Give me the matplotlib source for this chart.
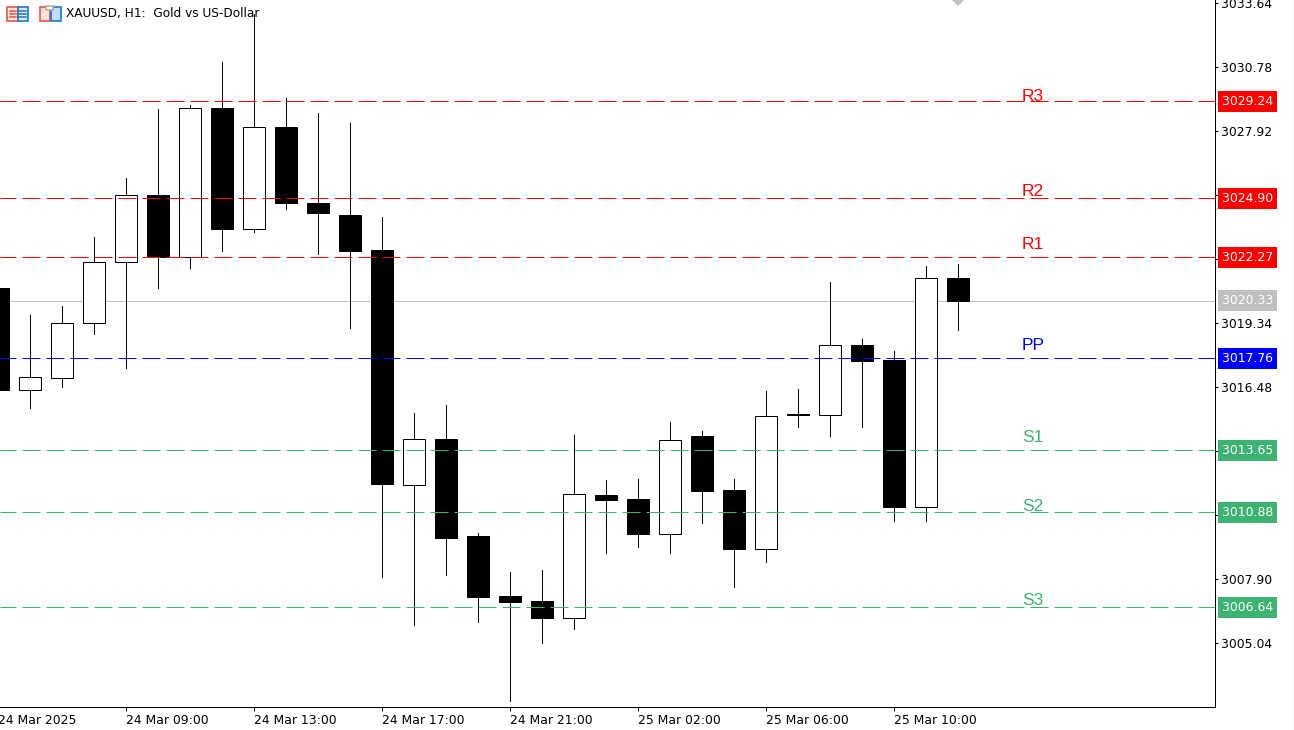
import matplotlib
matplotlib.use('Agg')
import matplotlib.pyplot as plt
from matplotlib.patches import Rectangle

highs = [3020.90, 3019.70, 3020.10, 3023.18, 3025.81, 3028.88, 3029.06, 3030.98, 3033.12, 3029.38, 3028.71,
         3028.26, 3024.07, 3015.33, 3015.68, 3009.97, 3008.19, 3008.32, 3014.35, 3012.34, 3012.38, 3014.93,
         3014.52, 3012.38, 3016.31, 3016.40, 3021.17, 3018.63, 3018.09, 3021.88, 3021.97]
lows = [3016.35, 3015.55, 3016.49, 3018.85, 3017.33, 3020.90, 3021.79, 3022.55, 3023.40, 3024.42, 3022.42,
        3019.12, 3008.01, 3005.83, 3008.06, 3005.96, 3002.44, 3005.02, 3005.65, 3009.04, 3009.35, 3009.08,
        3010.38, 3007.52, 3008.64, 3014.70, 3014.30, 3014.70, 3010.51, 3010.51, 3019.03]
opens = [3020.90, 3016.35, 3016.89, 3019.34, 3022.06, 3025.05, 3022.28, 3028.93, 3023.53, 3028.08, 3024.69,
         3024.16, 3022.60, 3012.11, 3014.17, 3009.80, 3007.12, 3006.90, 3006.14, 3011.67, 3011.49, 3009.89,
         3014.30, 3011.89, 3009.22, 3015.28, 3015.24, 3018.36, 3017.69, 3011.13, 3021.35]
closes = [3016.35, 3016.93, 3019.34, 3022.06, 3025.05, 3022.28, 3028.93, 3023.53, 3028.08, 3024.69, 3024.25,
          3022.55, 3012.16, 3014.17, 3009.75, 3007.08, 3006.85, 3006.14, 3011.71, 3011.45, 3009.89, 3014.12,
          3011.85, 3009.22, 3015.19, 3015.24, 3018.36, 3017.65, 3011.13, 3021.35, 3020.32]

level_names = ['R3', 'R2', 'R1', 'PP', 'S1', 'S2', 'S3']
level_prices = [3029.24, 3024.90, 3022.27, 3017.76, 3013.65, 3010.88, 3006.64]
level_label_y = [3029.27, 3025.02, 3022.62, 3018.13, 3014.03, 3010.95, 3006.76]
level_colors = ['#ff0000', '#ff0000', '#ff0000', '#0000ff', '#3cb371', '#3cb371', '#3cb371']
last_price = 3020.33

price_ticks = [3033.64, 3030.78, 3027.92, 3025.06, 3022.20, 3019.34, 3016.48, 3013.62, 3010.76, 3007.90, 3005.04]
price_hidden = [3025.06, 3022.20, 3013.62, 3010.76]
time_ticks = [4, 8, 12, 16, 20, 24, 28]
time_labels = ['24 Mar 09:00', '24 Mar 13:00', '24 Mar 17:00', '24 Mar 21:00',
               '25 Mar 02:00', '25 Mar 06:00', '25 Mar 10:00']

W, H = 1294, 730
plt.rcParams['lines.scale_dashes'] = False
plt.rcParams['font.family'] = 'DejaVu Sans'
px = 0.72  # one pixel in points at dpi 100
small = 8.9

fig = plt.figure(figsize=(W / 100, H / 100), dpi=100)
ax = fig.add_axes([0, 1 - 707 / H, 1215 / W, 707 / H])
ax.set_xlim(4 - 126 / 32, 4 + (1215 - 126) / 32)
ax.set_ylim(3029.24 - 605.8 / 22.389, 3029.24 + 101.2 / 22.389)

for s in ['top', 'left']:
    ax.spines[s].set_visible(False)
for s in ['right', 'bottom']:
    ax.spines[s].set_linewidth(1 * px)

ax.axhline(last_price, color='#c0c0c0', lw=1 * px, zorder=1)

for i in range(len(opens)):
    top = max(opens[i], closes[i])
    bot = min(opens[i], closes[i])
    face = 'black' if closes[i] < opens[i] else 'white'
    ax.vlines(i, top, highs[i], color='black', lw=1 * px, zorder=2, antialiased=False)
    ax.vlines(i, lows[i], bot, color='black', lw=1 * px, zorder=2, antialiased=False)
    ax.bar(i, top - bot, bottom=bot, width=21.5 / 32, facecolor=face, edgecolor='black', linewidth=1 * px, zorder=3)

box = dict(boxstyle='square,pad=0.33', ec='none')
for name, price, label_y, col in zip(level_names, level_prices, level_label_y, level_colors):
    ax.axhline(price, color=col, lw=1 * px, linestyle=(2 * px, (18 * px, 6 * px)), zorder=4)
    ax.text(32, label_y, name, color=col, fontsize=12.5, family='Liberation Sans', va='baseline', ha='left', zorder=5)
    ax.annotate(f'{price:.2f}', xy=(1, price), xycoords=('axes fraction', 'data'), xytext=(7, 0),
                textcoords='offset pixels', color='white', fontsize=small, va='center', ha='left',
                annotation_clip=False, zorder=6, bbox=dict(box, fc=col))

ax.annotate(f'{last_price:.2f}', xy=(1, last_price), xycoords=('axes fraction', 'data'), xytext=(7, 0),
            textcoords='offset pixels', color='white', fontsize=small, va='center', ha='left',
            annotation_clip=False, zorder=6, bbox=dict(box, fc='#c0c0c0'))

# grey shift marker at the top edge
ax.plot([30], [ax.get_ylim()[1]], marker='D', ms=6.1, color='#c0c0c0', mew=0, zorder=2)

ax.yaxis.tick_right()
ax.set_yticks(price_ticks)
ax.set_yticklabels(['' if t in price_hidden else f'{t:.2f}' for t in price_ticks], fontsize=small)
ax.tick_params(axis='y', length=3 * px, width=1 * px, pad=2)
ax.set_xticks(time_ticks)
ax.set_xticklabels(time_labels, fontsize=small, ha='left')
ax.tick_params(axis='x', length=4 * px, width=1 * px, pad=2.5)
ax.annotate('24 Mar 2025', xy=(0, 0), xycoords=('data', 'axes fraction'), xytext=(0, -7.5),
            textcoords='offset pixels', fontsize=small, va='top', ha='left', annotation_clip=False)

# header icons and title, placed in pixel coordinates
head = fig.add_axes([0, 0, 1, 1], facecolor='none')
head.set_xlim(0, W)
head.set_ylim(H, 0)
head.axis('off')
head.text(66, 13.5, 'XAUUSD, H1:  Gold vs US-Dollar', fontsize=8.7, va='center', ha='left')
red, blue = '#e2574c', '#1f78c1'
head.add_patch(Rectangle((7, 6.5), 10.5, 14, fc='#fde3dc', ec=red, lw=1.2))
head.add_patch(Rectangle((17.5, 6.5), 10.5, 14, fc='#d8ebfa', ec=blue, lw=1.2))
for yy in [10.5, 13.5, 16.5]:
    head.plot([9.5, 16], [yy, yy], color=red, lw=1.1)
    head.plot([19, 26], [yy, yy], color=blue, lw=1.1)
head.add_patch(Rectangle((39.5, 6.5), 10.5, 14, fc='#fde3dc', ec=red, lw=1.2))
head.add_patch(Rectangle((50.5, 6.5), 10, 14, fc='#bfe0fa', ec=blue, lw=1.2))
head.add_patch(Rectangle((45.5, 5.5), 7, 4.5, fc='white', ec='#a8a8a8', lw=1.1))
head.add_patch(Rectangle((1292.5, 0), 1.5, H, fc='#f0f0f0', ec='none'))

fig.savefig('out.png', dpi=100, facecolor='white')
